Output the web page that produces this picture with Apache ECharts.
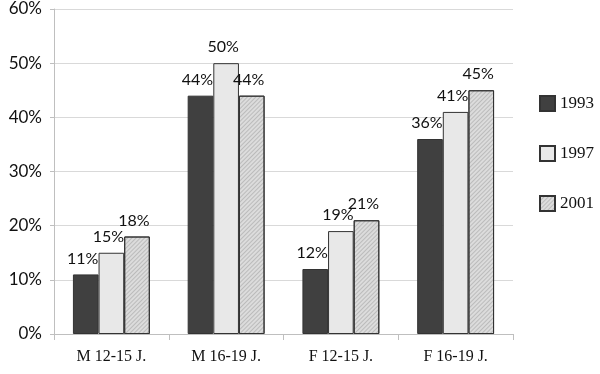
<!DOCTYPE html>
<html><head><meta charset="utf-8">
<script src="https://cdn.jsdelivr.net/npm/echarts@6/dist/echarts.min.js"></script>
<style>html,body{margin:0;padding:0;background:#fff}#c{width:600px;height:374px}</style>
</head><body><div id="c"></div>
<script>
const categories = ['M 12-15 J.', 'M 16-19 J.', 'F 12-15 J.', 'F 16-19 J.'];
const s1993 = [11, 44, 12, 36];
const s1997 = [15, 50, 19, 41];
const s2001 = [18, 44, 21, 45];
const yTicks = [0, 10, 20, 30, 40, 50, 60];

const chart = echarts.init(document.getElementById('c'));
const labelFont = {show: true, position: 'top', distance: 8, offset: [-3, 0],
  formatter: p => p.value + '%', fontFamily: 'Lato', fontSize: 16, color: '#111'};
function mk(name, data, color, decal) {
  const s = {name, type: 'bar', data, barGap: '0%', barCategoryGap: '33%',
    itemStyle: {color, borderColor: '#333', borderWidth: 1},
    label: labelFont};
  if (decal) s.itemStyle.decal = decal;
  return s;
}
chart.setOption({
  animation: false,
  grid: {left: 54, right: 87, top: 9, bottom: 40},
  legend: {orient: 'vertical', left: 539, top: 95, itemWidth: 15, itemHeight: 15, itemGap: 33,
    icon: 'rect', padding: 0,
    textStyle: {fontFamily: 'Liberation Serif', fontSize: 17, color: '#111'},
    data: ['1993', '1997', '2001']},
  xAxis: {type: 'category', data: categories,
    axisLine: {lineStyle: {color: '#bfbfbf'}},
    axisTick: {show: true, length: 6, lineStyle: {color: '#bfbfbf'}},
    axisLabel: {margin: 15, fontFamily: 'Liberation Serif', fontSize: 16, color: '#111'}},
  yAxis: {type: 'value', min: 0, max: 60, interval: 10,
    axisLine: {show: true, lineStyle: {color: '#bfbfbf'}},
    axisTick: {show: true, length: 4, lineStyle: {color: '#bfbfbf'}},
    splitLine: {lineStyle: {color: '#d9d9d9'}},
    axisLabel: {margin: 12, fontFamily: 'Lato', fontSize: 17, color: '#111',
      formatter: v => yTicks.includes(v) ? v + '%' : ''}},
  series: [
    mk('1993', s1993, '#404040'),
    mk('1997', s1997, '#e8e8e8'),
    mk('2001', s2001, '#dcdcdc', {symbol: 'rect', symbolSize: 1, dashArrayX: [1, 0], dashArrayY: [1, 2],
      rotation: -Math.PI / 4, color: 'rgba(0,0,0,0.15)'})
  ]
});
</script></body></html>
